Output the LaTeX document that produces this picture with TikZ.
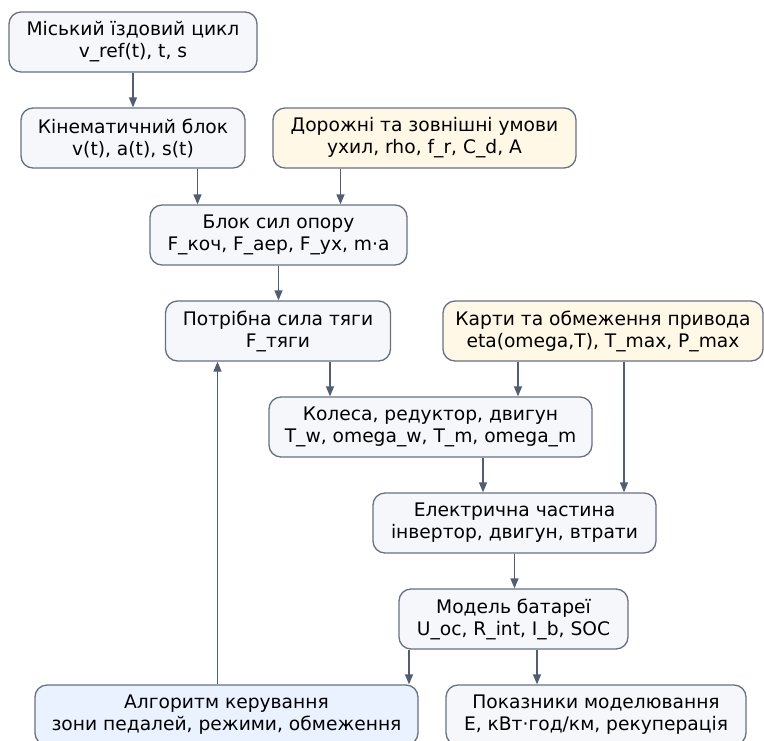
\documentclass[tikz,border=0pt]{standalone}
\usepackage{fontspec}
\setmainfont{DejaVu Sans}
\definecolor{boxfill}{RGB}{245,247,251}
\definecolor{boxline}{RGB}{104,113,130}
\definecolor{warmfill}{RGB}{255,248,231}
\definecolor{ctrlfill}{RGB}{234,242,255}
\definecolor{arrowcol}{RGB}{82,93,115}
\usetikzlibrary{arrows.meta}

\begin{document}
\begin{tikzpicture}[x=1pt, y=-1pt,
  block/.style={draw=boxline, line width=1.3pt, fill=boxfill, rounded corners=12pt,
    align=center, minimum height=60pt, inner sep=0pt,
    font=\fontsize{18.67}{22}\selectfont},
  given/.style={block, fill=warmfill},
  ctrl/.style={block, fill=ctrlfill},
  arr/.style={draw=arrowcol, line width=1.3pt, -{Triangle[length=10pt,width=8pt]}}]
\useasboundingbox (0,0) rectangle (764,740);

% Blocks
\node[block, minimum width=248pt] (cycle) at (133,42) {Міський їздовий цикл\\v\_ref(t), t, s};
\node[block, minimum width=224pt] (kinem) at (133,138) {Кінематичний блок\\v(t), a(t), s(t)};
\node[given, minimum width=303pt] (road) at (424.5,138) {Дорожні та зовнішні умови\\ухил, rho, f\_r, C\_d, A};
\node[block, minimum width=257pt] (resist) at (278.5,235) {Блок сил опору\\F\_коч, F\_аер, F\_ух, m·a};
\node[block, minimum width=225pt] (traction) at (278,331) {Потрібна сила тяги\\F\_тяги};
\node[given, minimum width=320pt] (maps) at (603,331) {Карти та обмеження привода\\eta(omega,T), T\_max, P\_max};
\node[block, minimum width=323pt] (gear) at (430.5,427) {Колеса, редуктор, двигун\\T\_w, omega\_w, T\_m, omega\_m};
\node[block, minimum width=283pt] (elec) at (514.5,523) {Електрична частина\\інвертор, двигун, втрати};
\node[block, minimum width=229pt] (batt) at (513.5,619) {Модель батареї\\U\_oc, R\_int, I\_b, SOC};
\node[ctrl, minimum width=383pt] (control) at (226.5,715) {Алгоритм керування\\зони педалей, режими, обмеження};
\node[block, minimum width=300pt] (results) at (596,715) {Показники моделювання\\E, кВт·год/км, рекуперація};

% Connectors
\draw[arr] (cycle) -- (kinem);
\draw[arr] ([xshift=64.5pt]kinem.south) -- ([xshift=64.5pt]kinem.south |- resist.north);
\draw[arr] ([xshift=-84pt]road.south) -- ([xshift=-84pt]road.south |- resist.north);
\draw[arr] (resist.south) -- (resist.south |- traction.north);
\draw[arr] ([xshift=52pt]traction.south) -- ([xshift=52pt]traction.south |- gear.north);
\draw[arr] ([xshift=-85pt]maps.south) -- ([xshift=-85pt]maps.south |- gear.north);
\draw[arr] ([xshift=21pt]maps.south) -- ([xshift=21pt]maps.south |- elec.north);
\draw[arr] ([xshift=52.5pt]gear.south) -- ([xshift=52.5pt]gear.south |- elec.north);
\draw[arr] (elec.south) -- (elec.south |- batt.north);
\draw[arr] ([xshift=-104.5pt]batt.south) -- ([xshift=-104.5pt]batt.south |- control.north);
\draw[arr] ([xshift=23.5pt]batt.south) -- ([xshift=23.5pt]batt.south |- results.north);
\draw[arr] ([xshift=-9pt]control.north) -- ([xshift=-9pt]control.north |- traction.south);

\end{tikzpicture}
\end{document}
